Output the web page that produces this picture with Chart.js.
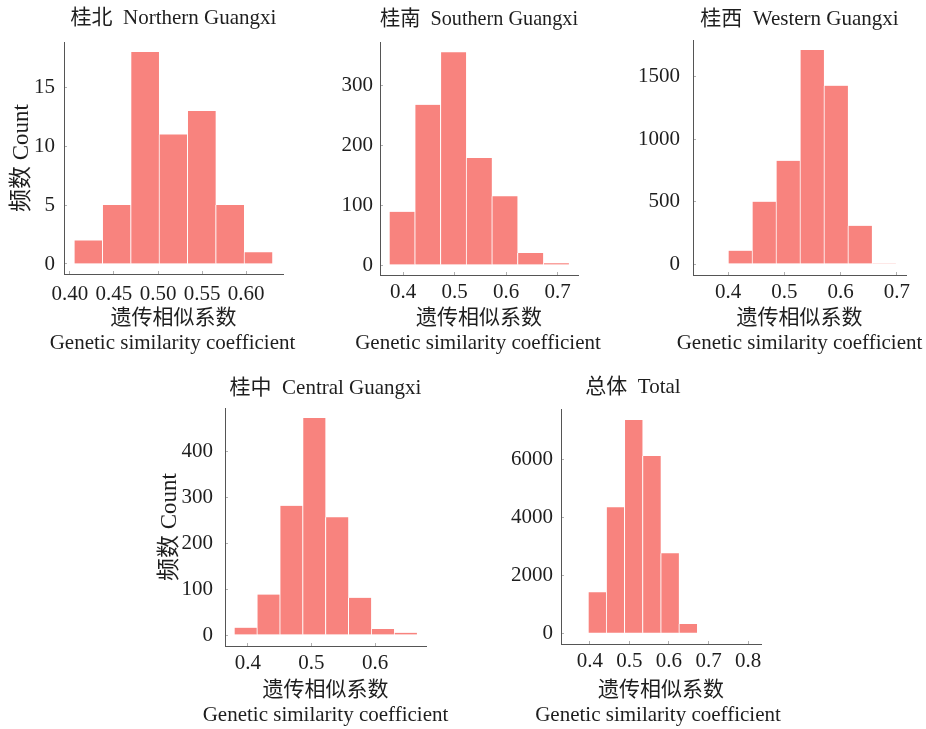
<!DOCTYPE html>
<html>
<head>
<meta charset="utf-8">
<script src="https://cdn.jsdelivr.net/npm/chart.js@4.4.1/dist/chart.umd.min.js"></script>
<style>
  html, body { margin: 0; padding: 0; background: #fff; overflow: hidden; }
  #wrap { position: relative; width: 926px; height: 729px; }
  canvas { position: absolute; }
</style>
</head>
<body>
<div id="wrap">
  <canvas id="north"></canvas>
  <canvas id="south"></canvas>
  <canvas id="west"></canvas>
  <canvas id="central"></canvas>
  <canvas id="total"></canvas>
</div>
<script>
// values (bin centres and counts)
const northBins = [0.4206, 0.4528, 0.4850, 0.5172, 0.5494, 0.5816, 0.6138];
const northCounts = [2, 5, 18, 11, 13, 5, 1];
const northXTicks = [0.40, 0.45, 0.50, 0.55, 0.60];
const northYTicks = [0, 5, 10, 15];

const southBins = [0.3978, 0.4477, 0.4976, 0.5475, 0.5974, 0.6473, 0.6972];
const southCounts = [89, 268, 356, 179, 115, 20, 3];
const southXTicks = [0.4, 0.5, 0.6, 0.7];
const southYTicks = [0, 100, 200, 300];

const westBins = [0.4213, 0.4639, 0.5065, 0.5491, 0.5917, 0.6343, 0.6769];
const westCounts = [107, 500, 828, 1716, 1430, 307, 3];
const westXTicks = [0.4, 0.5, 0.6, 0.7];
const westYTicks = [0, 500, 1000, 1500];

const centralBins = [0.396, 0.432, 0.468, 0.504, 0.540, 0.576, 0.612, 0.648];
const centralCounts = [16, 88, 281, 472, 256, 81, 13, 5];
const centralXTicks = [0.4, 0.5, 0.6];
const centralYTicks = [0, 100, 200, 300, 400];

const totalBins = [0.418, 0.464, 0.510, 0.556, 0.602, 0.648];
const totalCounts = [1419, 4361, 7383, 6137, 2769, 322];
const totalXTicks = [0.4, 0.5, 0.6, 0.7, 0.8];
const totalYTicks = [0, 2000, 4000, 6000];

const xTitleCn = '遗传相似系数';
const xTitleEn = 'Genetic similarity coefficient';
const yTitle = '频数 Count';

const fontFamily = '"Liberation Serif", "Times New Roman", "Noto Sans CJK SC", serif';
const barColor = '#f8837e';
const textColor = '#1e1e1e';

// english line under the x axis title; drawn by hand so it is not squeezed to the plot width
const englishLabel = {
  id: 'englishLabel',
  afterDraw(chart, args, opts) {
    const { ctx, chartArea } = chart;
    ctx.save();
    ctx.font = '21px ' + fontFamily;
    ctx.fillStyle = textColor;
    ctx.textAlign = 'center';
    ctx.textBaseline = 'middle';
    ctx.fillText(opts.text, (chartArea.left + chartArea.right) / 2 + opts.dx, chartArea.bottom + opts.dy);
    ctx.restore();
  }
};

function histogram(id, p) {
  const cv = document.getElementById(id);
  cv.width = p.yW + (p.R - p.L) + p.rp;
  cv.height = p.tH + (p.B - p.T) + p.xH + p.bp;
  cv.style.left = (p.L - p.yW) + 'px';
  cv.style.top = (p.T - p.tH) + 'px';

  new Chart(cv, {
    type: 'bar',
    data: {
      datasets: [{
        data: p.bins.map((x, i) => ({ x: x, y: p.counts[i] })),
        backgroundColor: barColor,
        borderColor: '#fff',
        borderWidth: { left: 1, right: 0, top: 0, bottom: 0 },
        barPercentage: 1,
        categoryPercentage: 1
      }]
    },
    plugins: [englishLabel],
    options: {
      responsive: false,
      animation: false,
      layout: { padding: { right: p.rp, bottom: p.bp } },
      plugins: {
        legend: { display: false },
        tooltip: { enabled: false },
        title: {
          display: true,
          text: p.title,
          fullSize: !!p.fullTitle,
          color: textColor,
          font: { family: fontFamily, size: 21, weight: 'normal', lineHeight: '24px' },
          padding: { top: p.tPad[0], bottom: p.tPad[1] }
        },
        englishLabel: { text: xTitleEn, dx: p.enDx, dy: p.enDy }
      },
      scales: {
        x: {
          type: 'linear',
          min: p.xMin,
          max: p.xMax,
          offset: false,
          afterBuildTicks: s => { s.ticks = p.xTicks.map(v => ({ value: v })) },
          afterFit: s => { s.height = p.xH },
          grid: { offset: false, drawOnChartArea: false, tickLength: -3, color: '#b0b0b0' },
          border: { color: '#555' },
          ticks: {
            padding: p.xPad,
            color: textColor,
            autoSkip: false,
            maxRotation: 0,
            font: { family: fontFamily, size: 21 },
            callback: v => v.toFixed(p.dec)
          },
          title: {
            display: true,
            text: xTitleCn,
            color: textColor,
            font: { family: fontFamily, size: 21, lineHeight: '24px' },
            padding: { top: 0, bottom: 0 }
          }
        },
        y: {
          min: p.yMin,
          max: p.yMax,
          afterBuildTicks: s => { s.ticks = p.yTicks.map(v => ({ value: v })) },
          afterFit: s => { s.width = p.yW },
          grid: { drawOnChartArea: false, tickLength: -3, color: '#b0b0b0' },
          border: { color: '#555' },
          ticks: {
            padding: p.yPad,
            color: textColor,
            font: { family: fontFamily, size: 21 },
            callback: v => String(v)
          },
          title: {
            display: !!p.showY,
            text: yTitle,
            color: textColor,
            font: { family: fontFamily, size: 23, lineHeight: '24px' },
            padding: { top: p.ytPad || 0, bottom: 0 }
          }
        }
      }
    }
  });
}

histogram('north', {
  title: '桂北  Northern Guangxi', bins: northBins, counts: northCounts,
  xTicks: northXTicks, yTicks: northYTicks, dec: 2,
  L: 64, R: 283, T: 42, B: 274, yW: 64, rp: 20, tH: 42, xH: 56, bp: 30,
  xMin: 0.3932, xMax: 0.642, yMin: -0.85, yMax: 18.85,
  tPad: [6, 12], xPad: 11, yPad: 12, showY: true, ytPad: 10, enDx: -1, enDy: 69
});

histogram('south', {
  title: '桂南  Southern Guangxi', bins: southBins, counts: southCounts,
  xTicks: southXTicks, yTicks: southYTicks, dec: 1,
  L: 380, R: 578, T: 42, B: 275, yW: 55, rp: 30, tH: 42, xH: 55, bp: 30,
  xMin: 0.3553, xMax: 0.7398, yMin: -16.7, yMax: 373,
  tPad: [7, 11], xPad: 8, yPad: 10, enDx: -1, enDy: 68
});

histogram('west', {
  title: '桂西  Western Guangxi', bins: westBins, counts: westCounts,
  xTicks: westXTicks, yTicks: westYTicks, dec: 1,
  L: 693, R: 906, T: 40, B: 275, yW: 60, rp: 20, tH: 40, xH: 55, bp: 30,
  xMin: 0.3378, xMax: 0.7162, yMin: -88, yMax: 1796,
  tPad: [7, 9], xPad: 8, yPad: 16, enDx: 0, enDy: 68
});

histogram('central', {
  title: '桂中  Central Guangxi', bins: centralBins, counts: centralCounts,
  xTicks: centralXTicks, yTicks: centralYTicks, dec: 1,
  L: 225, R: 426, T: 408, B: 646, yW: 70, rp: 30, tH: 48, xH: 56, bp: 26,
  xMin: 0.3638, xMax: 0.6803, yMin: -23.9, yMax: 493.5,
  tPad: [16, 8], xPad: 8, yPad: 15, showY: true, ytPad: 3, enDx: 0, enDy: 69
});

// full-width title spans from the canvas left edge to the plot's right edge
histogram('total', {
  title: '总体  Total', bins: totalBins, counts: totalCounts,
  xTicks: totalXTicks, yTicks: totalYTicks, dec: 1, fullTitle: true,
  L: 561, R: 761, T: 409, B: 644, yW: 56, rp: 25, tH: 49, xH: 58, bp: 26,
  xMin: 0.3266, xMax: 0.8329, yMin: -370, yMax: 7764,
  tPad: [15, 10], xPad: 8, yPad: 11, enDx: -3, enDy: 71
});
</script>
</body>
</html>
